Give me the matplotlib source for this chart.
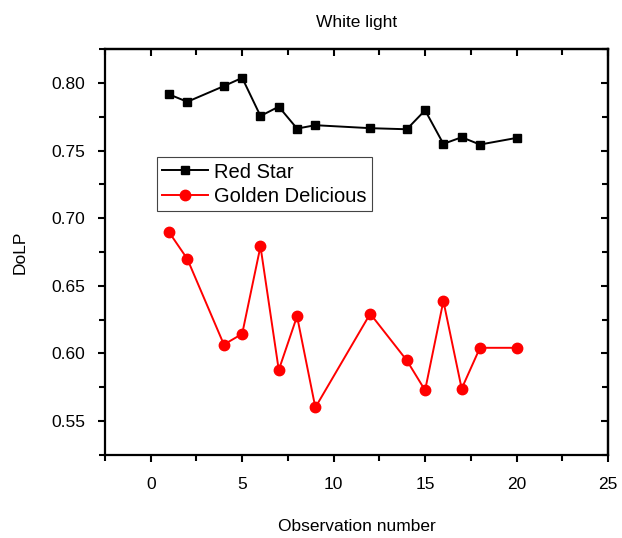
import numpy as np
import matplotlib.pyplot as plt
from matplotlib.ticker import MultipleLocator, FormatStrFormatter

plt.rcParams['font.family'] = ['Liberation Sans', 'DejaVu Sans']

# observation numbers (same for both apples)
obs = [1, 2, 4, 5, 6, 7, 8, 9, 12, 14, 15, 16, 17, 18, 20]
red_star = [0.7915, 0.786, 0.7976, 0.8037, 0.7755, 0.7824, 0.7662, 0.7687,
            0.7665, 0.7657, 0.7797, 0.7549, 0.7598, 0.7544, 0.7593]
golden = [0.6897, 0.6699, 0.6066, 0.6145, 0.6792, 0.5878, 0.6275, 0.5601,
          0.6294, 0.5949, 0.5728, 0.6388, 0.5740, 0.6042, 0.6042]

fig = plt.figure(figsize=(6.22, 5.38), dpi=100)
ax = fig.add_axes([0.1688, 0.1543, 0.8087, 0.7546])

ax.plot(obs, red_star, color='black', marker='s', markersize=6, linewidth=1.4, label='Red Star')
ax.plot(obs, golden, color='red', marker='o', markersize=7.5, linewidth=1.4, label='Golden Delicious')

ax.set_xlim(-2.5, 25)
ax.set_ylim(0.525, 0.825)
ax.xaxis.set_major_locator(MultipleLocator(5))
ax.xaxis.set_minor_locator(MultipleLocator(2.5))
ax.yaxis.set_major_locator(MultipleLocator(0.05))
ax.yaxis.set_minor_locator(MultipleLocator(0.025))
ax.yaxis.set_major_formatter(FormatStrFormatter('%.2f'))

for s in ax.spines.values():
    s.set_linewidth(1.6)
ax.tick_params(which='both', width=1.5, labelsize=12.5, direction='out')
ax.tick_params(axis='x', pad=11)
ax.tick_params(axis='y', pad=9)
ax.tick_params(which='major', length=5)
ax.tick_params(which='minor', length=4)

# top and right: inward ticks, no labels
axt = ax.secondary_xaxis('top')
axt.xaxis.set_major_locator(MultipleLocator(5))
axt.xaxis.set_minor_locator(MultipleLocator(2.5))
axt.tick_params(which='both', direction='in', width=1.5, labeltop=False)
axt.tick_params(which='major', length=5)
axt.tick_params(which='minor', length=4)
axt.spines['top'].set_linewidth(1.6)
axr = ax.secondary_yaxis('right')
axr.yaxis.set_major_locator(MultipleLocator(0.05))
axr.yaxis.set_minor_locator(MultipleLocator(0.025))
axr.tick_params(which='both', direction='in', width=1.5, labelright=False)
axr.tick_params(which='major', length=5)
axr.tick_params(which='minor', length=4)
axr.spines['right'].set_linewidth(1.6)

ax.set_title('White light', fontsize=12.5, pad=16)
ax.set_xlabel('Observation number', fontsize=12.5, labelpad=19)
ax.set_ylabel('DoLP', fontsize=12.5, labelpad=17)

leg = ax.legend(loc='lower left', bbox_to_anchor=(0.103, 0.602), fontsize=14.5,
                fancybox=False, edgecolor='#444444', framealpha=1,
                handlelength=2.3, borderpad=0.25, labelspacing=0.25, handletextpad=0.3,
                borderaxespad=0)
leg.get_frame().set_linewidth(0.8)

fig.savefig('out.png', dpi=100)
